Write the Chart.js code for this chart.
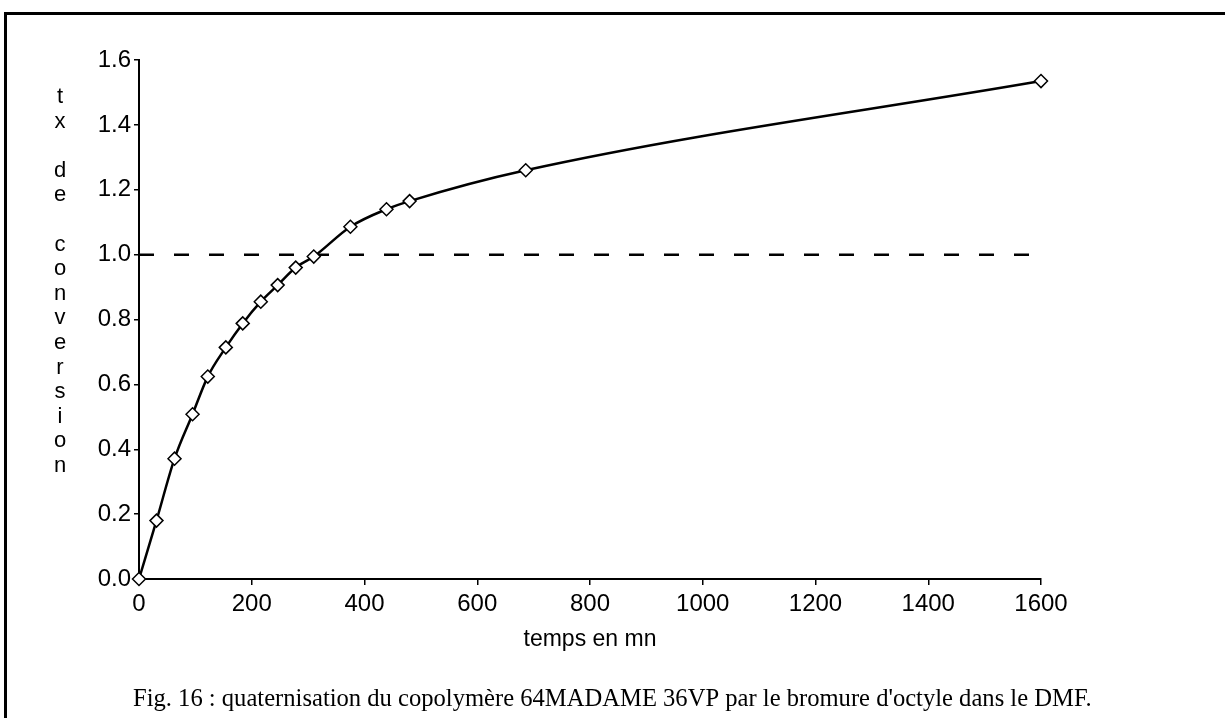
<!DOCTYPE html>
<html>
<head>
<meta charset="utf-8">
<script src="https://cdn.jsdelivr.net/npm/chart.js@4.4.1/dist/chart.umd.min.js"></script>
<style>
  html, body { margin: 0; padding: 0; background: #fff; }
  #wrap { position: relative; width: 1225px; height: 718px; overflow: hidden; }
  #frame { position: absolute; left: 4px; top: 12px; width: 1400px; height: 900px;
           border-left: 3px solid #000; border-top: 3px solid #000; }
  canvas { position: absolute; left: 0; top: 0; }
</style>
</head>
<body>
<div id="wrap">
  <div id="frame"></div>
  <canvas id="c" width="1225" height="718"></canvas>
</div>
<script>
// ---- data ----
const timeMin    = [0, 31, 63, 95, 122, 154, 184, 216, 246, 278, 310, 375, 439, 480, 686, 1600];
const conversion = [0, 0.18, 0.371, 0.508, 0.624, 0.714, 0.788, 0.855, 0.906, 0.96, 0.994, 1.086, 1.14, 1.165, 1.26, 1.535];
const refX = [0, 1590];
const refY = [1.0, 1.0];
const xTicksMin = 0, xTicksMax = 1600, xStep = 200;
const yTicksMin = 0, yTicksMax = 1.6, yStep = 0.2;
const yTitleLetters = ['t','x','','d','e','','c','o','n','v','e','r','s','i','o','n'];
const xTitle = 'temps en mn';
const caption = "Fig. 16 : quaternisation du copolymère 64MADAME 36VP par le bromure d'octyle dans le DMF.";

const toPts = (xs, ys) => xs.map((x, i) => ({ x: x, y: ys[i] }));

const textPlugin = {
  id: 'texts',
  afterDraw(chart) {
    const ctx = chart.ctx;
    ctx.save();
    ctx.fillStyle = '#000';
    ctx.textAlign = 'center';
    ctx.textBaseline = 'middle';
    ctx.font = '22px "Liberation Sans", Arial, sans-serif';
    const yTop = 97, yBot = 466;
    const dy = (yBot - yTop) / (yTitleLetters.length - 1);
    yTitleLetters.forEach((ch, i) => { if (ch) ctx.fillText(ch, 60, yTop + i * dy); });
    ctx.font = '23px "Liberation Sans", Arial, sans-serif';
    ctx.fillText(xTitle, 590, 640);
    ctx.font = '24.6px "Liberation Serif", "Times New Roman", serif';
    ctx.textAlign = 'left';
    ctx.fillText(caption, 133, 700);
    ctx.restore();
  }
};

const axisFont = { family: '"Liberation Sans", Arial, sans-serif', size: 24 };

new Chart(document.getElementById('c'), {
  type: 'scatter',
  data: {
    datasets: [
      {
        data: toPts(refX, refY),
        showLine: true,
        borderColor: '#000',
        borderWidth: 2.5,
        borderDash: [15, 20],
        pointRadius: 0,
        order: 2
      },
      {
        data: toPts(timeMin, conversion),
        showLine: true,
        borderColor: '#000',
        borderWidth: 2.5,
        cubicInterpolationMode: 'monotone',
        pointStyle: 'rectRot',
        pointRadius: 6.5,
        pointBackgroundColor: '#fff',
        pointBorderColor: '#000',
        pointBorderWidth: 1.5,
        clip: false,
        order: 1
      }
    ]
  },
  options: {
    responsive: false,
    animation: false,
    events: [],
    layout: { padding: { left: 0, top: 60, right: 184, bottom: 0 } },
    plugins: { legend: { display: false }, tooltip: { enabled: false }, title: { display: false } },
    scales: {
      x: {
        type: 'linear',
        min: xTicksMin, max: xTicksMax,
        ticks: { stepSize: xStep, color: '#000', font: axisFont, padding: 5, maxRotation: 0,
                 callback: v => String(v) },
        grid: { drawOnChartArea: false, drawTicks: true, tickLength: 6, color: '#000', lineWidth: 1.5 },
        border: { display: true, color: '#000', width: 2 },
        afterFit(s) { s.height = 139; }
      },
      y: {
        type: 'linear',
        min: yTicksMin, max: yTicksMax,
        ticks: { stepSize: yStep, color: '#000', font: axisFont, padding: 3,
                 callback: v => Number(v).toFixed(1) },
        grid: { drawOnChartArea: false, drawTicks: true, tickLength: 5, color: '#000', lineWidth: 1.5 },
        border: { display: true, color: '#000', width: 2 },
        afterFit(s) { s.width = 139; }
      }
    }
  },
  plugins: [textPlugin]
});
</script>
</body>
</html>
